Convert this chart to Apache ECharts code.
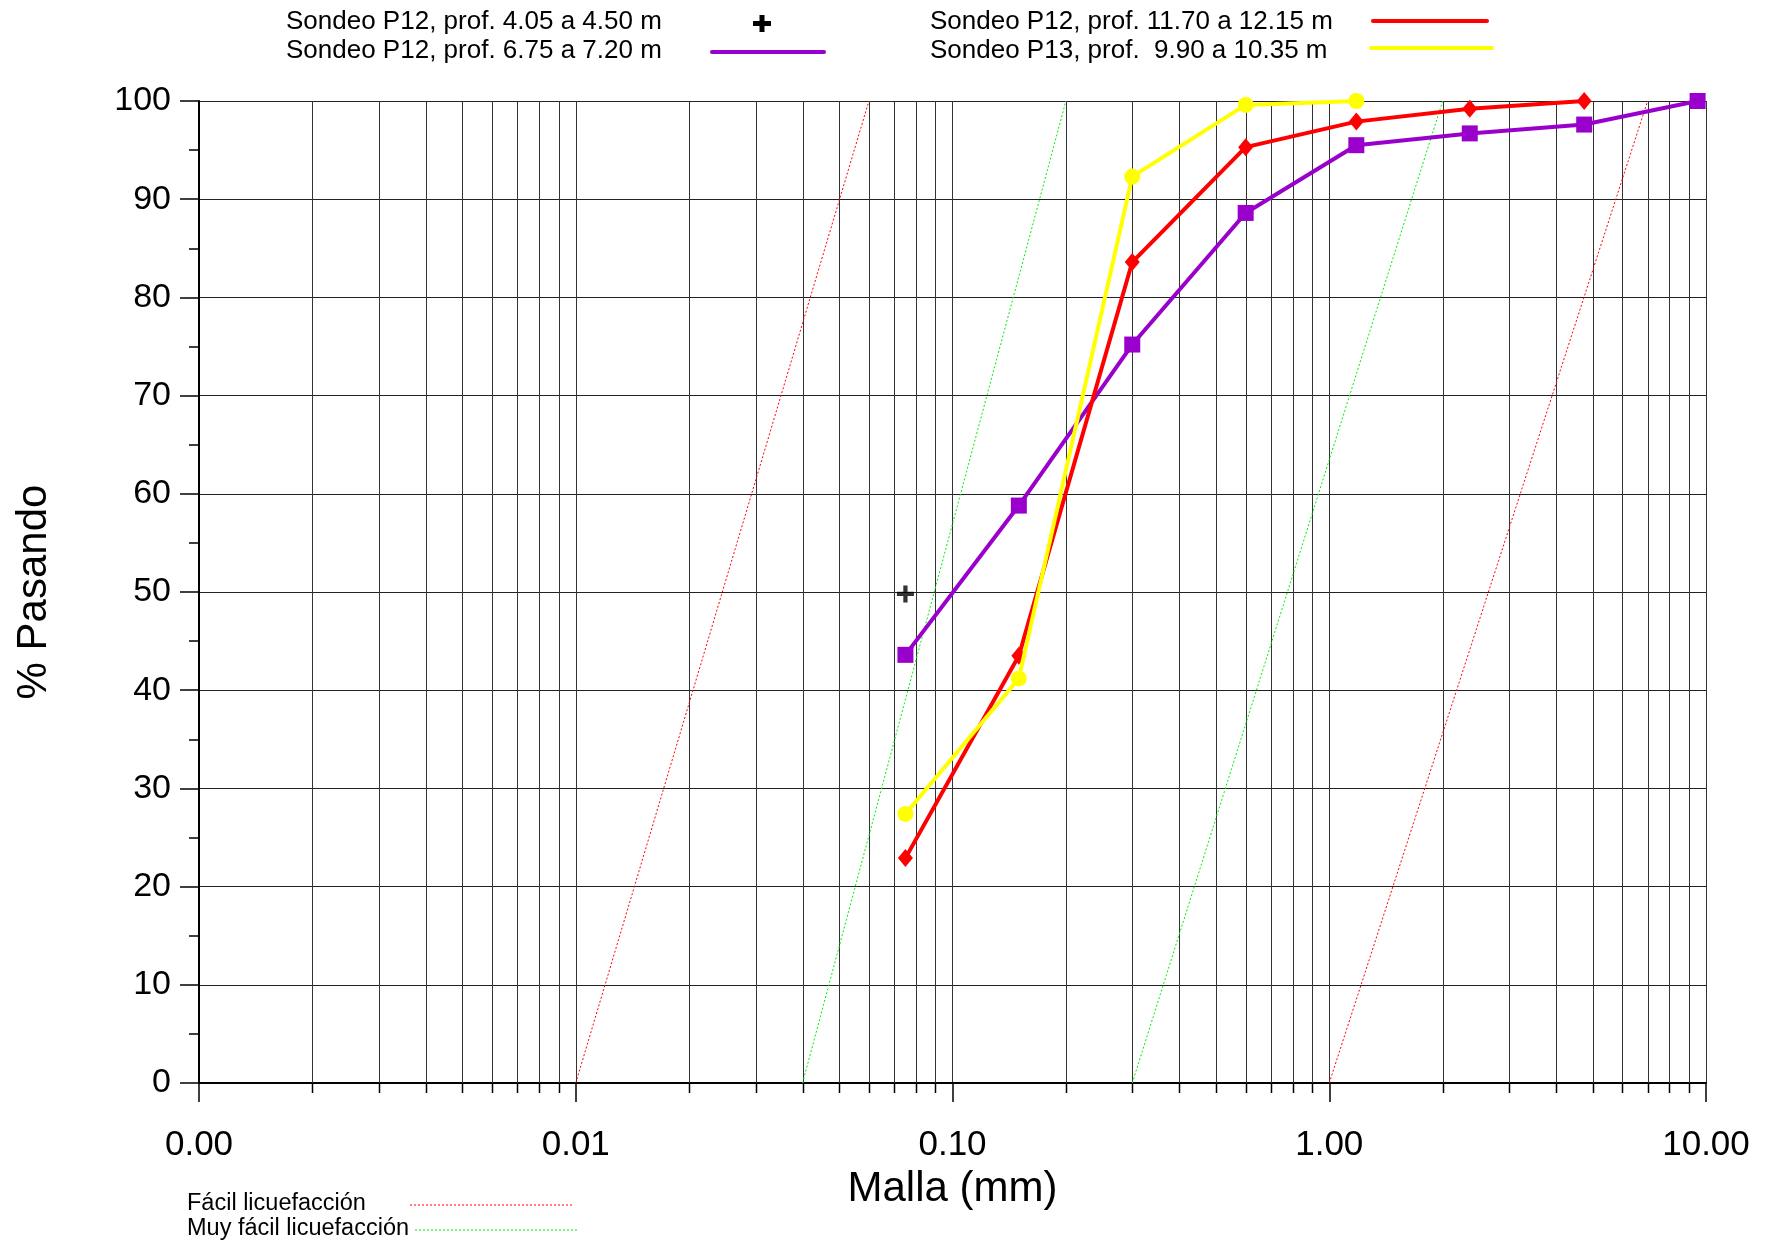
<!DOCTYPE html>
<html>
<head>
<meta charset="utf-8">
<script src="https://cdn.jsdelivr.net/npm/echarts@6/dist/echarts.min.js"></script>
<style>
  html, body { margin: 0; padding: 0; background: #fff; }
  #chart { width: 1766px; height: 1243px; }
</style>
</head>
<body>
<div id="chart"></div>
<script>
// Sieve openings (mm) and percent passing for each boring sample
const sieveSizes = [0.075, 0.15, 0.3, 0.6, 1.18, 2.36, 4.75, 9.5];
const p12_405_sizes = [0.075];
const p12_405_pass = [49.8];
const p12_675_pass = [43.6, 58.8, 75.2, 88.6, 95.5, 96.7, 97.6, 100];
const p12_1170_pass = [22.9, 43.5, 83.6, 95.3, 97.9, 99.2, 100];
const p13_990_pass = [27.4, 41.2, 92.3, 99.6, 100];

// Liquefaction susceptibility bounds (size mm, % passing)
const facilLeft = [[0.01, 0], [0.06, 100]];
const facilRight = [[1, 0], [7, 100]];
const muyFacilLeft = [[0.04, 0], [0.2, 100]];
const muyFacilRight = [[0.3, 0], [2, 100]];

// Intermediate log-cycle lines of the grain-size grid
const minorMeshSizes = [
  0.002, 0.003, 0.004, 0.005, 0.006, 0.007, 0.008, 0.009,
  0.02, 0.03, 0.04, 0.05, 0.06, 0.07, 0.08, 0.09,
  0.2, 0.3, 0.4, 0.5, 0.6, 0.7, 0.8, 0.9,
  2, 3, 4, 5, 6, 7, 8, 9
];

const FONT = "'Liberation Sans', Arial, sans-serif";
const PURPLE = '#9900CC';
const RED = '#FF0000';
const YELLOW = '#FFFF00';
const GREEN = '#00EE00';

const pair = (sizes, vals) => vals.map((v, i) => [sizes[i], v]);

const chart = echarts.init(document.getElementById('chart'), null, { renderer: 'canvas' });

const boundLine = (data, color) => ({
  type: 'line',
  data: data,
  symbol: 'none',
  silent: true,
  z: 2,
  lineStyle: { color: color, width: 1, type: [2, 2] }
});

const option = {
  animation: false,
  backgroundColor: '#fff',
  grid: { left: 199, top: 101, width: 1507, height: 982, containLabel: false },
  xAxis: {
    type: 'log',
    logBase: 10,
    min: 0.001,
    max: 10,
    name: 'Malla (mm)',
    nameLocation: 'middle',
    nameGap: 85,
    nameTextStyle: { fontFamily: FONT, fontSize: 42, color: '#000' },
    axisLine: { show: true, lineStyle: { color: '#000', width: 2 } },
    axisTick: { show: true, length: 19, lineStyle: { color: '#000', width: 1.5 } },
    axisLabel: {
      fontFamily: FONT, fontSize: 35, color: '#000', margin: 45,
      formatter: v => Number(v).toFixed(2)
    },
    splitLine: { show: true, lineStyle: { color: '#333', width: 1 } }
  },
  yAxis: {
    type: 'value',
    min: 0,
    max: 100,
    interval: 10,
    name: '% Pasando',
    nameLocation: 'middle',
    nameGap: 144,
    nameTextStyle: { fontFamily: FONT, fontSize: 42, color: '#000' },
    axisLine: { show: true, lineStyle: { color: '#000', width: 2 } },
    axisTick: { show: true, length: 19, lineStyle: { color: '#000', width: 1.5 } },
    minorTick: { show: true, splitNumber: 2, length: 10, lineStyle: { color: '#000', width: 1.5 } },
    axisLabel: { fontFamily: FONT, fontSize: 34, color: '#000', margin: 28 },
    splitLine: { show: true, lineStyle: { color: '#222', width: 1.2 } }
  },
  series: [
    {
      type: 'custom',
      name: 'mesh',
      silent: true,
      clip: false,
      z: 1,
      data: minorMeshSizes.map(s => [s, 0]),
      encode: { x: 0, y: 1 },
      renderItem: (params, api) => {
        const x = api.value(0);
        const top = api.coord([x, 100]);
        const bot = api.coord([x, 0]);
        const px = Math.round(top[0]) + 0.5;
        return {
          type: 'group',
          children: [
            { type: 'line', shape: { x1: px, y1: top[1], x2: px, y2: bot[1] },
              style: { stroke: '#333', lineWidth: 1 } },
            { type: 'line', shape: { x1: px, y1: bot[1], x2: px, y2: bot[1] + 10 },
              style: { stroke: '#000', lineWidth: 1.5 } }
          ]
        };
      }
    },
    boundLine(facilLeft, RED),
    boundLine(facilRight, RED),
    boundLine(muyFacilLeft, GREEN),
    boundLine(muyFacilRight, GREEN),
    {
      type: 'line',
      name: 'Sondeo P12, prof. 6.75 a 7.20 m',
      data: pair(sieveSizes, p12_675_pass),
      symbol: 'rect',
      symbolSize: 16,
      showSymbol: true,
      z: 3,
      lineStyle: { color: PURPLE, width: 4 },
      itemStyle: { color: PURPLE }
    },
    {
      type: 'line',
      name: 'Sondeo P12, prof. 11.70 a 12.15 m',
      data: pair(sieveSizes, p12_1170_pass),
      symbol: 'diamond',
      symbolSize: [15, 18],
      showSymbol: true,
      z: 4,
      lineStyle: { color: RED, width: 4 },
      itemStyle: { color: RED }
    },
    {
      type: 'line',
      name: 'Sondeo P13, prof.  9.90 a 10.35 m',
      data: pair(sieveSizes, p13_990_pass),
      symbol: 'circle',
      symbolSize: 16,
      showSymbol: true,
      z: 5,
      lineStyle: { color: YELLOW, width: 4 },
      itemStyle: { color: YELLOW }
    },
    {
      type: 'scatter',
      name: 'Sondeo P12, prof. 4.05 a 4.50 m',
      data: pair(p12_405_sizes, p12_405_pass),
      symbol: 'path://M6,0H10V6H16V10H10V16H6V10H0V6H6Z',
      symbolSize: 17,
      z: 6,
      itemStyle: { color: '#000' }
    }
  ],
  graphic: [
    // upper legend
    { type: 'text', left: 286, top: 9, style: { text: 'Sondeo P12, prof. 4.05 a 4.50 m', font: '26px ' + FONT, fill: '#000' } },
    { type: 'text', left: 286, top: 38, style: { text: 'Sondeo P12, prof. 6.75 a 7.20 m', font: '26px ' + FONT, fill: '#000' } },
    { type: 'rect', shape: { x: 753, y: 21, width: 18, height: 5 }, style: { fill: '#000' } },
    { type: 'rect', shape: { x: 759.5, y: 15, width: 5, height: 17 }, style: { fill: '#000' } },
    { type: 'line', shape: { x1: 712, y1: 52, x2: 824, y2: 52 }, style: { stroke: PURPLE, lineWidth: 4, lineCap: 'round' } },
    { type: 'text', left: 930, top: 9, style: { text: 'Sondeo P12, prof. 11.70 a 12.15 m', font: '26px ' + FONT, fill: '#000' } },
    { type: 'text', left: 930, top: 38, style: { text: 'Sondeo P13, prof.  9.90 a 10.35 m', font: '26px ' + FONT, fill: '#000' } },
    { type: 'line', shape: { x1: 1373, y1: 21, x2: 1487, y2: 21 }, style: { stroke: RED, lineWidth: 4, lineCap: 'round' } },
    { type: 'line', shape: { x1: 1371, y1: 48, x2: 1492, y2: 48 }, style: { stroke: YELLOW, lineWidth: 4, lineCap: 'round' } },
    // lower legend
    { type: 'text', left: 187, top: 1192, style: { text: 'Fácil licuefacción', font: '23.5px ' + FONT, fill: '#000' } },
    { type: 'text', left: 187, top: 1217, style: { text: 'Muy fácil licuefacción', font: '23.5px ' + FONT, fill: '#000' } },
    { type: 'line', shape: { x1: 410, y1: 1205, x2: 573, y2: 1205 }, style: { stroke: RED, lineWidth: 1, lineDash: [2, 2] } },
    { type: 'line', shape: { x1: 415, y1: 1230, x2: 577, y2: 1230 }, style: { stroke: GREEN, lineWidth: 1, lineDash: [2, 2] } }
  ]
};

chart.setOption(option);
</script>
</body>
</html>
